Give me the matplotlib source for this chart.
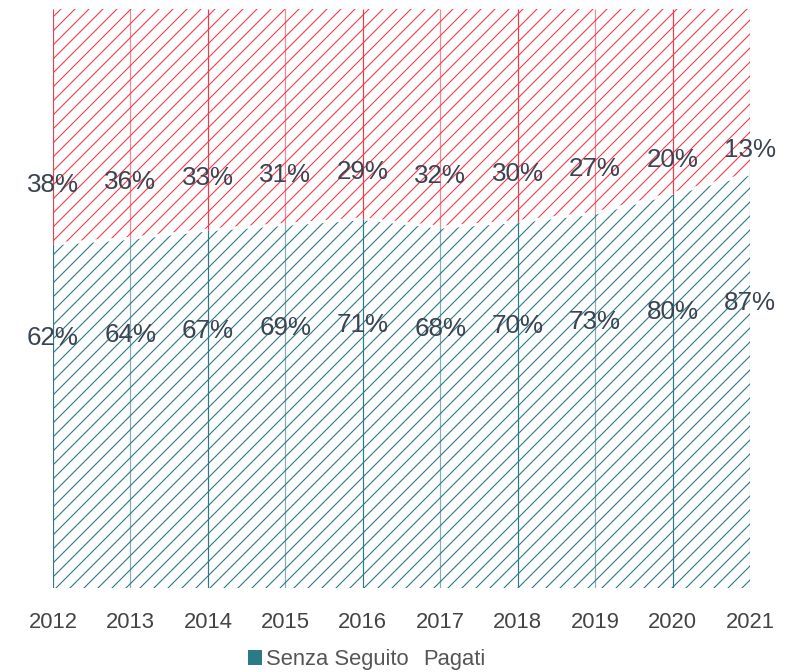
import matplotlib.pyplot as plt
from matplotlib.patches import Patch

# dati
anni = [2012, 2013, 2014, 2015, 2016, 2017, 2018, 2019, 2020, 2021]
senza_seguito = [62, 64, 67, 69, 71, 68, 70, 73, 80, 87]
pagati = [38, 36, 33, 31, 29, 32, 30, 27, 20, 13]

teal = "#2b7a85"
rosso = "#ef3b4b"
testo = "#3a4452"

DPI = 84
pt = 72 / DPI  # da pixel a punti

plt.rcParams['font.family'] = ['Liberation Sans', 'DejaVu Sans']
plt.rcParams['hatch.linewidth'] = 1.1 * pt

fig = plt.figure(figsize=(795 / DPI, 672 / DPI), dpi=DPI)
ax = fig.add_axes([53 / 795, 84 / 672, 697 / 795, 579 / 672])

ymin, ymax = -61, 146

ax.fill_between(anni, ymin, senza_seguito, facecolor="none", edgecolor=teal,
                hatch="//", linewidth=0, zorder=1)
ax.fill_between(anni, senza_seguito, ymax, facecolor="none", edgecolor=rosso,
                hatch="//", linewidth=0, zorder=1)
ax.plot(anni, senza_seguito, color="white", lw=3 * pt, zorder=2)

# linee verticali
for i, (a, s) in enumerate(zip(anni, senza_seguito)):
    al = 1.0 if i % 2 == 0 else 0.6
    ax.vlines(a, ymin, s, color=teal, lw=1.2 * pt, alpha=al, zorder=3)
    ax.vlines(a, s, ymax, color=rosso, lw=1.2 * pt, alpha=al, zorder=3)

# etichette
for a, s, p in zip(anni, senza_seguito, pagati):
    ax.annotate(f"{s}%", (a, s / 2), xytext=(0, -7 * pt), textcoords="offset points",
                ha="center", va="center", fontsize=26 * pt, color=testo, zorder=4)
    ax.annotate(f"{p}%", (a, s + (100 - s) / 2), xytext=(0, 6 * pt), textcoords="offset points",
                ha="center", va="center", fontsize=26 * pt, color=testo, zorder=4)

ax.set_xlim(anni[0], anni[-1])
ax.set_ylim(ymin, ymax)
ax.set_xticks(anni)
ax.set_xticklabels([str(a) for a in anni])
ax.tick_params(axis="x", length=0, pad=24 * pt, labelsize=22 * pt, labelcolor="#444444")
ax.set_yticks([])
for sp in ax.spines.values():
    sp.set_visible(False)

handles = [Patch(facecolor=teal, edgecolor="none"), Patch(facecolor="none", edgecolor="none")]
fig.legend(handles, ["Senza Seguito", "Pagati"], loc="center", bbox_to_anchor=(0.461, 0.018),
           ncol=2, frameon=False, fontsize=22 * pt, labelcolor="#555555",
           handlelength=0.65, handleheight=0.65, handletextpad=0.2, columnspacing=-0.2)

fig.savefig("out.png", dpi=DPI, facecolor="white")
